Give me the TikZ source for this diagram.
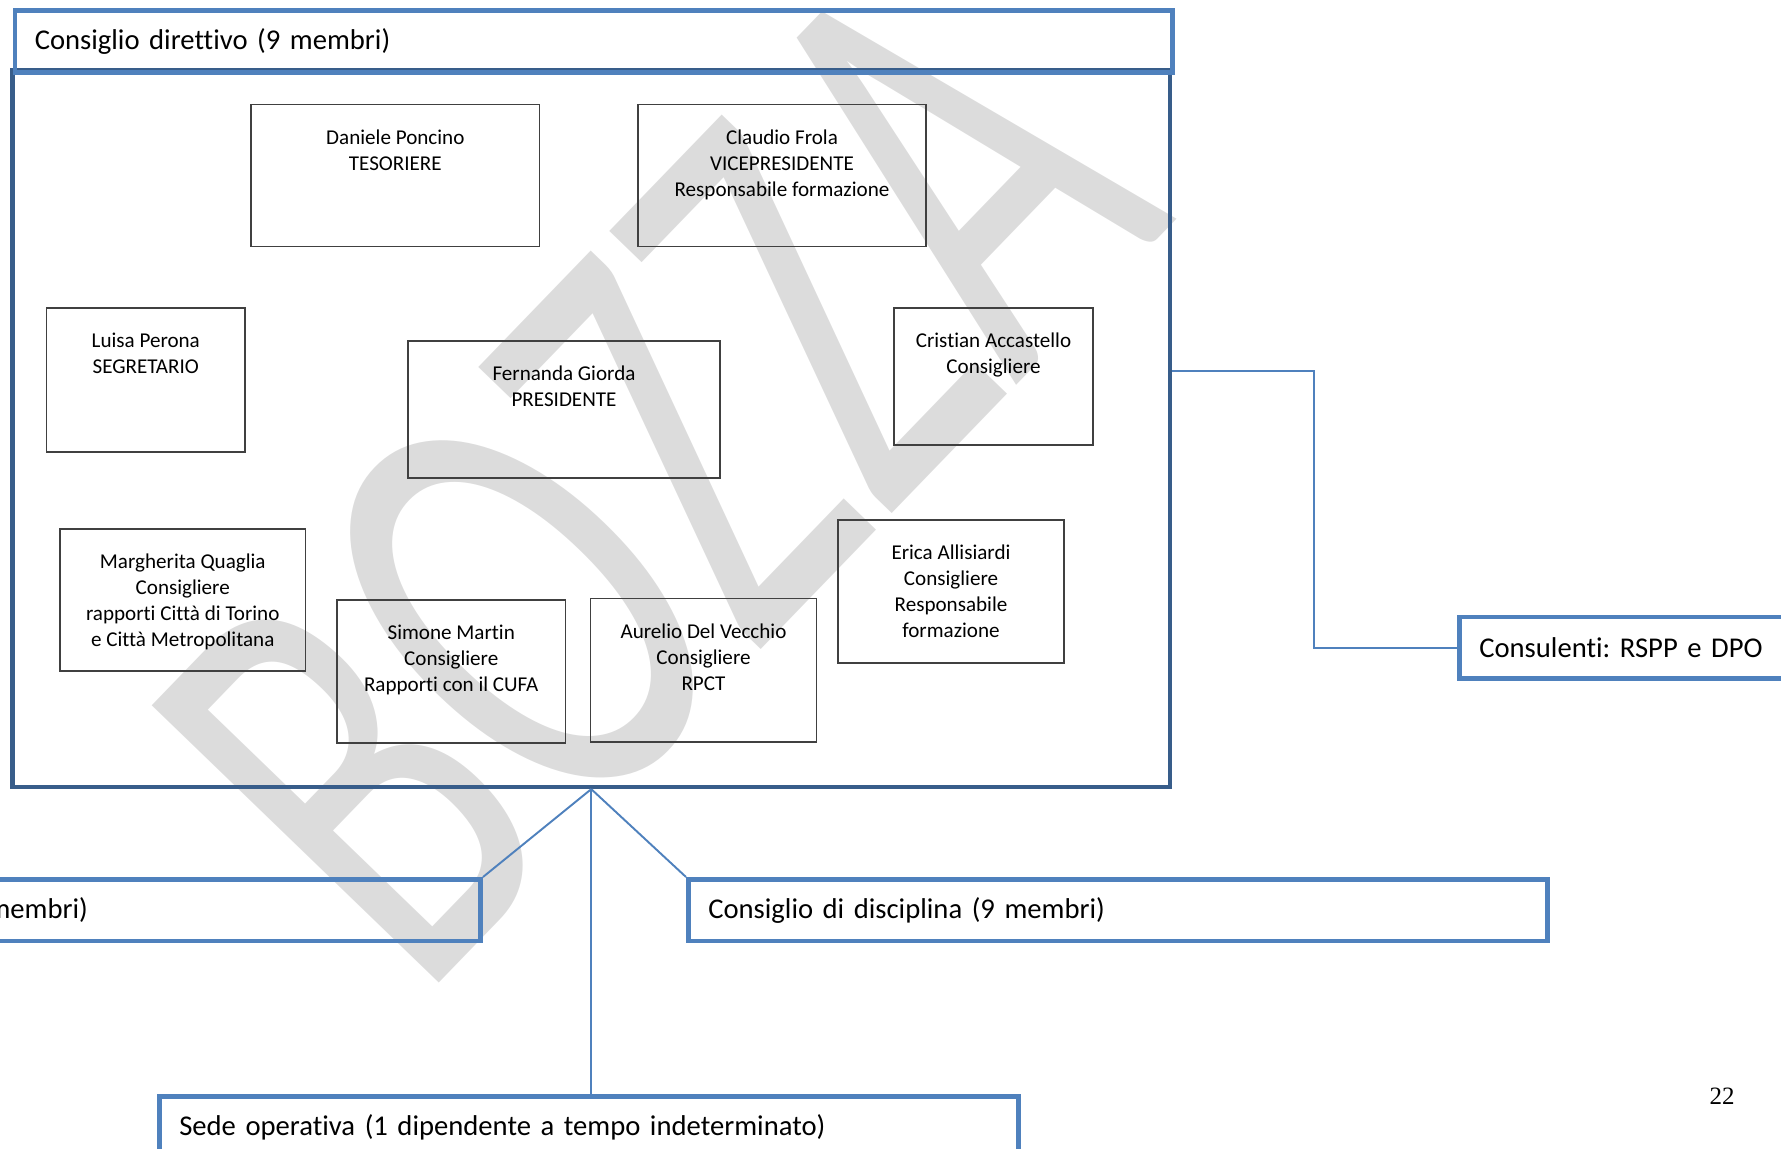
\documentclass[tikz,border=0pt]{standalone}
\usepackage{fontspec}
\setmainfont{Carlito}[Ligatures=NoCommon]
\newfontfamily\pagefont{Liberation Serif}
\usetikzlibrary{positioning, calc}
\frenchspacing

\definecolor{officeblue}{RGB}{79,129,189}
\definecolor{darkblue}{RGB}{56,93,138}
\definecolor{bozza}{RGB}{220,220,220}

\begin{document}
\begin{tikzpicture}[
        member/.style={rectangle, draw=black!75, line width=0.4pt, inner sep=0},
        who/.style={anchor=north, align=center, inner sep=0, yshift=-0.25cm, font=\fontsize{6}{7.4}\selectfont},
        head/.style={rectangle, draw=officeblue, line width=1.3pt, minimum height=0.615cm, text width=8.19cm, inner xsep=0.2cm, inner ysep=0, align=left, font=\fontsize{8.15}{10}\selectfont},
        link/.style={draw=officeblue, line width=0.55pt}
    ]
        \useasboundingbox (0,0) rectangle (17.81,-11.49);
        \clip (0,0) rectangle (17.81,-11.49);

        % Watermark
        \begin{scope}[shift={(6.55,-4.72)}, rotate=46, xscale=0.65]
            \node[transform shape, text=bozza, inner sep=0, font=\fontsize{177}{177}\selectfont] (bozza) at (0,0) {BOZZA};
        \end{scope}

        % Consiglio direttivo
        \node[rectangle, draw=darkblue, line width=1.2pt, minimum width=11.575cm, minimum height=7.17cm, inner sep=0] (frame) at (5.9125,-4.285) {};
        \node[head, text width=11.175cm, minimum height=0.62cm, anchor=north west] (dir) at (0.125,-0.08) {Consiglio direttivo (9 membri)};

        % Members
        \node[member, minimum width=2.885cm, minimum height=1.42cm] (tesoriere) at (3.953,-1.755) {};
        \node[who] at (tesoriere.north) {Daniele Poncino\\TESORIERE};
        \node[member, minimum width=2.88cm, minimum height=1.42cm] (vice) at (7.82,-1.755) {};
        \node[who] at (vice.north) {Claudio Frola\\VICEPRESIDENTE\\Responsabile formazione};
        \node[member, minimum width=1.985cm, minimum height=1.44cm] (segretario) at (1.4575,-3.80) {};
        \node[who] at (segretario.north) {Luisa Perona\\SEGRETARIO};
        \node[member, minimum width=3.12cm, minimum height=1.37cm] (presidente) at (5.64,-4.095) {};
        \node[who] at (presidente.north) {Fernanda Giorda\\PRESIDENTE};
        \node[member, minimum width=1.99cm, minimum height=1.37cm] (accastello) at (9.935,-3.765) {};
        \node[who] at (accastello.north) {Cristian Accastello\\Consigliere};
        \node[member, minimum width=2.455cm, minimum height=1.42cm] (quaglia) at (1.8275,-6.00) {};
        \node[who] at (quaglia.north) {Margherita Quaglia\\Consigliere\\rapporti Città di Torino\\e Città Metropolitana};
        \node[member, minimum width=2.285cm, minimum height=1.43cm] (martin) at (4.5125,-6.715) {};
        \node[who] at (martin.north) {Simone Martin\\Consigliere\\Rapporti con il CUFA};
        \node[member, minimum width=2.26cm, minimum height=1.435cm] (vecchio) at (7.035,-6.7025) {};
        \node[who] at (vecchio.north) {Aurelio Del Vecchio\\Consigliere\\RPCT};
        \node[member, minimum width=2.26cm, minimum height=1.43cm] (allisiardi) at (9.51,-5.915) {};
        \node[who] at (allisiardi.north) {Erica Allisiardi\\Consigliere\\Responsabile\\formazione};

        % Other bodies
        \node[head, anchor=north west] (cons) at (14.57,-6.145) {Consulenti: RSPP e DPO};
        \node[head, anchor=north west] (disc) at (6.86,-8.77) {Consiglio di disciplina (9 membri)};
        \node[head, anchor=north west] (sede) at (1.57,-10.94) {Sede operativa (1 dipendente a tempo indeterminato)};
        \node[head, anchor=north east] (left) at (4.83,-8.77) {};
        \node[anchor=east, inner sep=0, font=\fontsize{8.15}{10}\selectfont] (lefttext) at (left.east -| 0.886,0) {membri)};

        % Links
        \coordinate (knee) at (13.14,-3.71);
        \draw[link] (frame.east |- knee) -- (knee) |- (cons.west);
        \draw[link] (frame.south) -- (left.north east);
        \draw[link] (frame.south) -- (disc.north west);
        \draw[link] (frame.south) -- (frame.south |- sede.north);

        % Page number
        \node[font=\pagefont\fontsize{7.1}{8}\selectfont, inner sep=0] (page) at (17.22,-10.96) {22};
    \end{tikzpicture}
\end{document}
